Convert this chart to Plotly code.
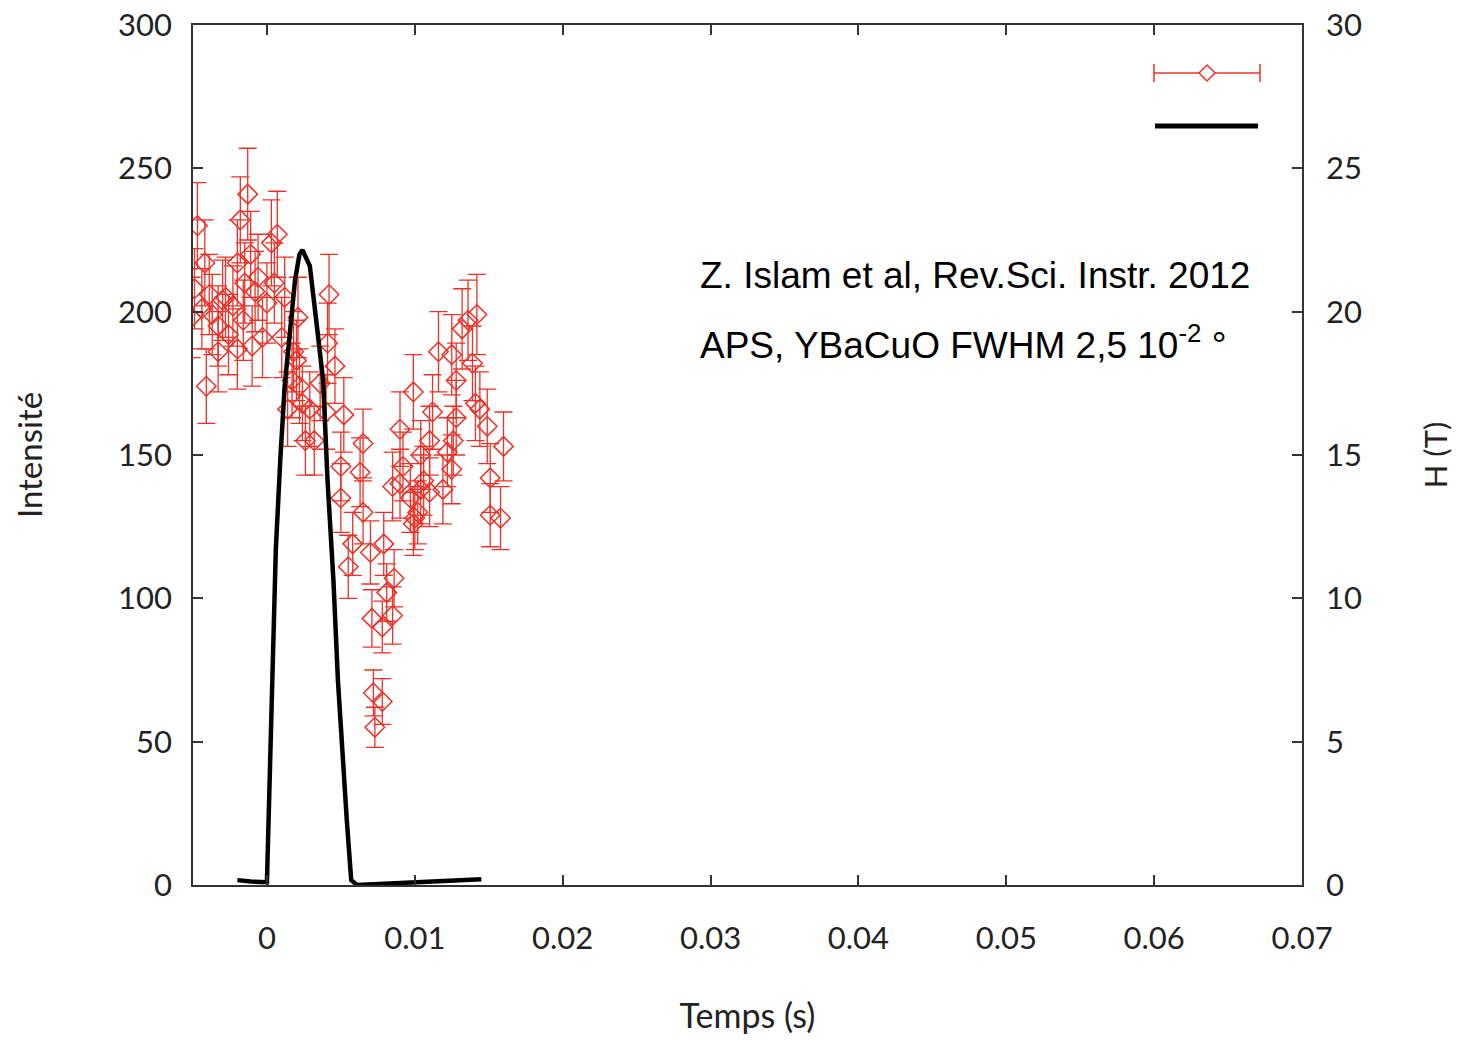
import plotly.graph_objects as go

# Intensity data (time in s, intensity, error)
t_int = [-0.0051, -0.0047, -0.0042, -0.0041, -0.0039, -0.0033, -0.0033, -0.0030, -0.0026, -0.0023,
         -0.0020, -0.0020, -0.0018, -0.0015, -0.0013, -0.0011, -0.0010, -0.0006, -0.0003, 0.0000,
         0.0003, 0.0007, 0.0010, 0.0014, 0.0017, 0.0020, 0.0021, 0.0022, 0.0026, 0.0029,
         0.0032, 0.0036, 0.0040, 0.0041, 0.0042, 0.0046, 0.0050, 0.0050, 0.0052, 0.0055,
         0.0058, 0.0063, 0.0065, 0.0065, 0.0070, 0.0071, 0.0072, 0.0073, 0.0078, 0.0078,
         0.0079, 0.0081, 0.0085, 0.0085, 0.0086, 0.0090, 0.0090, 0.0092, 0.0097, 0.0099,
         0.0099, 0.0100, 0.0102, 0.0104, 0.0104, 0.0106, 0.0110, 0.0110, 0.0112, 0.0116,
         0.0119, 0.0122, 0.0125, 0.0125, 0.0126, 0.0128, 0.0128, 0.0132, 0.0136, 0.0139,
         0.0141, 0.0142, 0.0144, 0.0149, 0.0151, 0.0151, 0.0158, 0.0160,
         -0.0049, -0.0044, -0.0037, -0.0028, -0.0016, -0.0008, 0.0005, 0.0012, 0.0018, 0.0024]
intensity = [198, 230, 217, 174, 206, 195, 186, 204, 192, 202,
             187, 217, 232, 210, 241, 220, 188, 212, 191, 203,
             224, 227, 191, 166, 176, 183, 198, 174, 155, 166,
             155, 175, 165, 189, 206, 181, 146, 135, 164, 111,
             119, 144, 154, 130, 116, 93, 67, 55, 64, 90,
             119, 102, 139, 94, 107, 159, 140, 146, 135, 172,
             126, 128, 130, 138, 150, 141, 155, 137, 165, 186,
             138, 151, 145, 185, 155, 176, 163, 194, 197, 182,
             168, 199, 166, 160, 142, 129, 128, 153,
             208, 201, 199, 205, 197, 207, 210, 205, 186, 168]
int_err = [14, 15, 15, 13, 14, 14, 14, 14, 14, 14,
           14, 15, 15, 14, 16, 15, 14, 15, 14, 14,
           15, 15, 14, 13, 13, 14, 14, 13, 12, 13,
           12, 13, 13, 14, 14, 13, 12, 12, 13, 11,
           11, 12, 12, 11, 11, 10, 8, 7, 8, 9,
           11, 10, 12, 10, 10, 13, 12, 12, 12, 13,
           11, 11, 11, 12, 12, 12, 12, 12, 13, 14,
           12, 12, 12, 14, 12, 13, 13, 14, 14, 13,
           13, 14, 13, 13, 12, 11, 11, 12,
           14, 14, 14, 14, 14, 14, 14, 14, 14, 13]

# Magnetic field pulse (time in s, H in T)
t_field = [-0.0020, -0.0011, 0.0000, 0.0001, 0.0001, 0.0003, 0.0006, 0.0009, 0.0012, 0.0019,
           0.0022, 0.0024, 0.0029, 0.0034, 0.0038, 0.0041, 0.0045, 0.0048, 0.0051, 0.0054,
           0.0057, 0.0061, 0.0145]
field = [0.17, 0.12, 0.1, 2.3, 2.3, 6.4, 11.7, 14.8, 17.4, 21.1,
         22.0, 22.15, 21.6, 19.4, 17.6, 14.1, 10.6, 7.15, 4.45, 2.27,
         0.17, 0.0, 0.2]

x_ticks = [0, 0.01, 0.02, 0.03, 0.04, 0.05, 0.06, 0.07]
x_tick_text = ["0", "0.01", "0.02", "0.03", "0.04", "0.05", "0.06", "0.07"]

red = "rgb(238,48,38)"
lato = "Lato, Open Sans, sans-serif"
arial = "Liberation Sans, Arial, sans-serif"
tick_font = dict(family=lato, size=31, color="#222")

fig = go.Figure()
fig.add_trace(go.Scatter(
    x=t_int, y=intensity, mode="markers",
    marker=dict(symbol="diamond-open", size=15, color=red, line=dict(width=1.5, color=red)),
    error_y=dict(type="data", array=int_err, visible=True, color=red, thickness=1.3, width=9),
    showlegend=False,
))
fig.add_trace(go.Scatter(
    x=t_field, y=field, mode="lines", yaxis="y2",
    line=dict(color="black", width=4.5),
    showlegend=False,
))

def px2paper(px, py):
    return (px - 193) / 1109, (885 - py) / 860

shapes = []
# legend: red errorbar sample
x0, y0 = px2paper(1154, 73)
x1, _ = px2paper(1260, 73)
shapes.append(dict(type="line", xref="paper", yref="paper", x0=x0, x1=x1, y0=y0, y1=y0,
                   line=dict(color=red, width=1.5)))
for cx in (1154, 1260):
    a, b = px2paper(cx, 64)
    _, c = px2paper(cx, 82)
    shapes.append(dict(type="line", xref="paper", yref="paper", x0=a, x1=a, y0=b, y1=c,
                       line=dict(color=red, width=1.5)))
cx, cy = px2paper(1207, 73)
dx, dy = 8 / 1109, 8 / 860
shapes.append(dict(type="path", xref="paper", yref="paper",
                   path=f"M {cx},{cy+dy} L {cx+dx},{cy} L {cx},{cy-dy} L {cx-dx},{cy} Z",
                   fillcolor="white", line=dict(color=red, width=1.5)))
# legend: black line sample
a, b = px2paper(1155, 126)
c, _ = px2paper(1258, 126)
shapes.append(dict(type="line", xref="paper", yref="paper", x0=a, x1=c, y0=b, y1=b,
                   line=dict(color="black", width=5)))

ax_common = dict(showline=True, linecolor="#333", linewidth=1.5, ticks="inside", ticklen=10,
                 tickwidth=1.5, tickcolor="#333", showgrid=False, zeroline=False,
                 tickfont=tick_font, automargin=False)

fig.update_layout(
    width=1459, height=1040,
    margin=dict(l=193, r=157, t=25, b=155, autoexpand=False),
    paper_bgcolor="white", plot_bgcolor="white",
    xaxis=dict(range=[-0.005, 0.07], tickvals=x_ticks, ticktext=x_tick_text, mirror="ticks",
               ticklabelstandoff=25,
               title=dict(text="Temps (s)", font=dict(family=lato, size=34, color="#222"),
                          standoff=49),
               **ax_common),
    yaxis=dict(range=[0, 300], tickvals=[0, 50, 100, 150, 200, 250, 300], ticklabelstandoff=13,
               title=dict(text="Intensité", font=dict(family=lato, size=33, color="#222"),
                          standoff=66),
               **ax_common),
    yaxis2=dict(range=[0, 30], tickvals=[0, 5, 10, 15, 20, 25, 30], overlaying="y", side="right",
                ticklabelstandoff=16,
                title=dict(text="H (T)", font=dict(family=lato, size=31, color="#222"),
                           standoff=64),
                **ax_common),
    shapes=shapes,
    annotations=[
        dict(xref="paper", yref="paper", x=(698 - 193) / 1109, y=(885 - 275) / 860,
             xanchor="left", yanchor="middle", showarrow=False,
             text="Z. Islam et al, Rev.Sci. Instr. 2012",
             font=dict(family=arial, size=37, color="black")),
        dict(xref="paper", yref="paper", x=(698 - 193) / 1109, y=(885 - 342) / 860,
             xanchor="left", yanchor="middle", showarrow=False,
             text="APS, YBaCuO FWHM 2,5 10<sup>-2</sup> °",
             font=dict(family=arial, size=37, color="black")),
    ],
)

fig.write_html("out.html")
